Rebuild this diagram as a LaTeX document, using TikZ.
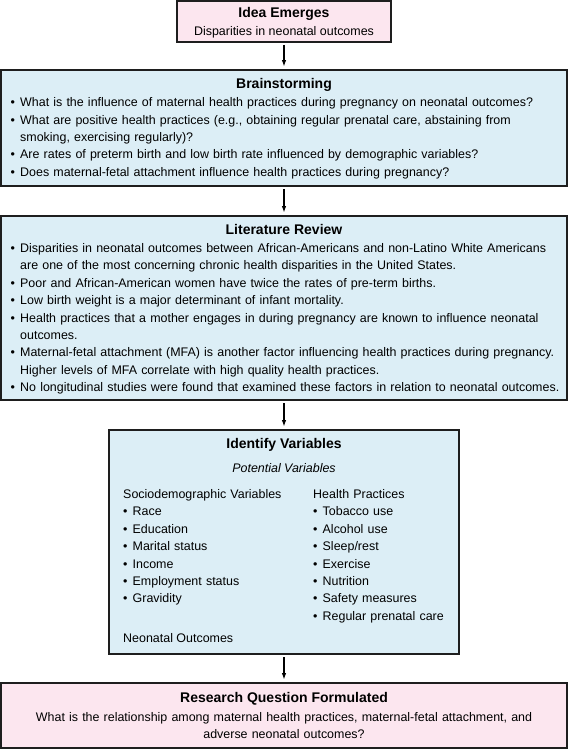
\documentclass[tikz,border=0pt]{standalone}
\usepackage{fontspec}
\setmainfont{Liberation Sans}
\usetikzlibrary{arrows.meta}
\definecolor{pinkfill}{HTML}{FCE6EF}
\definecolor{bluefill}{HTML}{DCEEF6}
\definecolor{edgecol}{HTML}{1E1E1E}
\newcommand{\bulfirst}{\hangindent=9.5pt\hangafter=1\noindent\makebox[9.5pt][l]{\textbullet}}
\newcommand{\bul}{\par\bulfirst}
\begin{document}
\begin{tikzpicture}[x=1pt,y=-1pt,
  box/.style={draw=edgecol,line width=1.6pt,inner sep=0pt,rectangle},
  pinkbox/.style={box,fill=pinkfill},
  bluebox/.style={box,fill=bluefill},
  title/.style={font=\fontsize{14}{17}\selectfont\bfseries,inner sep=0pt,anchor=base},
  body/.style={font=\fontsize{12.45}{17.4}\selectfont,inner sep=0pt},
  blockb/.style={body,anchor=base west,text width=600pt,align=left},
  arr/.style={line width=1.1pt,-{Latex[length=6.5pt,width=4.6pt]},shorten <=2pt,shorten >=2.5pt}]
\useasboundingbox (0,0) rectangle (568,750);
\fill[white] (0,0) rectangle (568,750);

\node[pinkbox,minimum width=214pt,minimum height=41pt] (idea) at (284,21.5) {};
\node[bluebox,minimum width=566pt,minimum height=116.4pt] (brain) at (284,128) {};
\node[bluebox,minimum width=566pt,minimum height=184.4pt] (lit) at (284,308) {};
\node[bluebox,minimum width=350.4pt,minimum height=224.4pt] (ident) at (284,542) {};
\node[pinkbox,minimum width=566pt,minimum height=65.4pt] (rq) at (284,715.5) {};

\draw[arr] (idea) -- (brain);
\draw[arr] (brain) -- (lit);
\draw[arr] (lit) -- (ident);
\draw[arr] (ident) -- (rq);

\node[title] (ideaT) at (284,17) {Idea Emerges};
\node[body,anchor=base] (ideaS) at (284,35) {Disparities in neonatal outcomes};

\node[title] (brainT) at (284,88.5) {Brainstorming};
\node[blockb] (brainB) at (10.5,106.7) {%
\bulfirst What is the influence of maternal health practices during pregnancy on neonatal outcomes?
\bul What are positive health practices (e.g., obtaining regular prenatal care, abstaining from\newline smoking, exercising regularly)?
\bul Are rates of preterm birth and low birth rate influenced by demographic variables?
\bul Does maternal-fetal attachment influence health practices during pregnancy?\par};

\node[title] (litT) at (284,234) {Literature Review};
\node[blockb] (litB) at (10.5,252.5) {%
\bulfirst Disparities in neonatal outcomes between African-Americans and non-Latino White Americans\newline are one of the most concerning chronic health disparities in the United States.
\bul Poor and African-American women have twice the rates of pre-term births.
\bul Low birth weight is a major determinant of infant mortality.
\bul Health practices that a mother engages in during pregnancy are known to influence neonatal\newline outcomes.
\bul Maternal-fetal attachment (MFA) is another factor influencing health practices during pregnancy.\newline Higher levels of MFA correlate with high quality health practices.
\bul No longitudinal studies were found that examined these factors in relation to neonatal outcomes.\par};

\node[title] (identT) at (284,448) {Identify Variables};
\node[body,anchor=base,font=\fontsize{12.45}{17.4}\selectfont\itshape] (identP) at (284,472) {Potential Variables};
\node[blockb,text width=180pt] (socio) at (123,498.5) {%
\noindent Sociodemographic Variables
\bul Race
\bul Education
\bul Marital status
\bul Income
\bul Employment status
\bul Gravidity\par};
\node[blockb,text width=140pt] (health) at (313,498.5) {%
\noindent Health Practices
\bul Tobacco use
\bul Alcohol use
\bul Sleep/rest
\bul Exercise
\bul Nutrition
\bul Safety measures
\bul Regular prenatal care\par};
\node[body,anchor=base west] (neo) at (123,642.5) {Neonatal Outcomes};

\node[title] (rqT) at (284,702) {Research Question Formulated};
\node[body,anchor=base,text width=560pt,align=center] (rqB) at (284,721.5) {What is the relationship among maternal health practices, maternal-fetal attachment, and\\ adverse neonatal outcomes?};
\end{tikzpicture}
\end{document}
